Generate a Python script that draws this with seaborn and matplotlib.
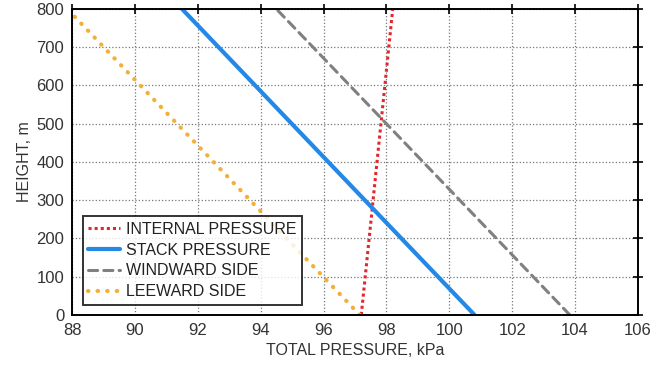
import matplotlib
matplotlib.use("Agg")
import matplotlib.pyplot as plt
import seaborn as sns
import pandas as pd
import numpy as np

sns.set_theme(style="white")
plt.rcParams['font.family'] = ['Liberation Sans', 'DejaVu Sans']

# Data: pressure (kPa) at bottom and top of the building
height = [0, 800]
internal = [97.2, 98.2]
stack = [100.8, 91.5]
windward = [103.83, 94.5]
leeward = [97.15, 87.85]

series = [
    ('INTERNAL PRESSURE', internal, '#e3262c', (0, (1, 1)), 2.2),
    ('STACK PRESSURE', stack, '#2489e6', '-', 3.0),
    ('WINDWARD SIDE', windward, '#808080', (0, (3, 2)), 2.2),
    ('LEEWARD SIDE', leeward, '#f2b036', (0, (0.1, 2.2)), 3.0),
]

fig = plt.figure(figsize=(6.63, 3.67), dpi=100)
ax = fig.add_axes([0.1086, 0.142, 0.8537, 0.8335])

for name, vals, color, ls, lw in series:
    df = pd.DataFrame({'pressure': vals, 'height': height})
    sns.lineplot(data=df, x='pressure', y='height', ax=ax, color=color,
                 linestyle=ls, linewidth=lw, label=name, sort=False)
for l in ax.get_lines():
    l.set_dash_capstyle('round')
ax.get_lines()[0].set_dash_capstyle('butt')

ax.set_xlim(88, 106)
ax.set_ylim(0, 800)
ax.set_xticks(np.arange(88, 107, 2))
ax.set_yticks(np.arange(0, 801, 100))
ax.grid(True, linestyle=':', color='#777777', linewidth=0.9)
for s in ax.spines.values():
    s.set_color('black')
    s.set_linewidth(1.4)
ax.tick_params(axis='both', which='both', labelsize=12, colors='black',
               labelcolor='#333333', direction='inout', length=7, width=1.2, pad=2)
ax.tick_params(axis='x', top=True, direction='inout')
ax.tick_params(axis='y', right=True)
ax.set_xlabel('TOTAL PRESSURE, kPa', fontsize=11.5, color='#333333', labelpad=4)
ax.set_ylabel('HEIGHT, m', fontsize=11.5, color='#333333', labelpad=3)

leg = ax.legend(loc='lower left', bbox_to_anchor=(0.019, 0.033), fontsize=11.5,
                frameon=True, fancybox=False, edgecolor='black', handlelength=2.0,
                handletextpad=0.35, borderpad=0.35, labelspacing=0.36, borderaxespad=0)
leg.get_frame().set_linewidth(1.4)
for t in leg.get_texts():
    t.set_color('#222222')

fig.savefig('out.png', dpi=100)
